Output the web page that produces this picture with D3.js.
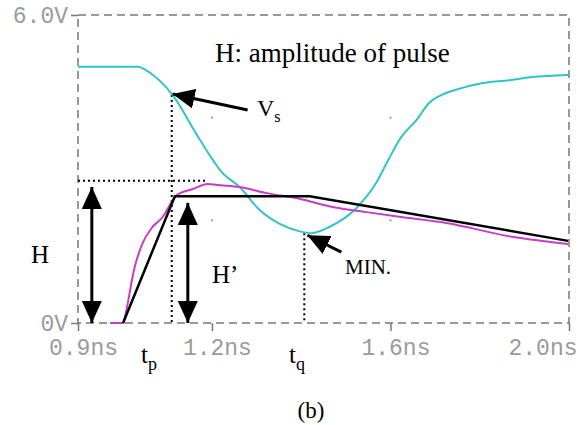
<!DOCTYPE html>
<html>
<head>
<meta charset="utf-8">
<script src="https://cdn.jsdelivr.net/npm/d3@7"></script>
<style>
  body { margin: 0; background: #fff; }
  svg { display: block; }
</style>
</head>
<body>
<script>
// tick labels
var xTicks = [0.9, 1.2, 1.6, 2.0];
var xTickLabels = ["0.9ns", "1.2ns", "1.6ns", "2.0ns"];
var yTicks = [0, 6];
var yTickLabels = ["0V", "6.0V"];
var gridT = [1.2, 1.6];
var gridV = [2, 4];

// Vs (cyan) curve, time in ns / volts
var cyanT = [0.900, 1.034, 1.065, 1.112, 1.173, 1.224, 1.262, 1.307, 1.352, 1.395, 1.423, 1.463, 1.524, 1.568, 1.593, 1.624, 1.658, 1.687, 1.725, 1.761, 1.799, 1.866, 1.917, 1.998];
var cyanV = [4.99, 4.99, 4.85, 4.44, 3.57, 2.92, 2.65, 2.20, 1.93, 1.79, 1.75, 1.87, 2.24, 2.73, 3.14, 3.62, 3.95, 4.29, 4.48, 4.58, 4.66, 4.73, 4.79, 4.83];

// pulse (magenta) curve
var magT = [0.972, 1.001, 1.005, 1.027, 1.045, 1.065, 1.090, 1.110, 1.121, 1.157, 1.191, 1.211, 1.262, 1.323, 1.396, 1.470, 1.546, 1.620, 1.725, 1.872, 1.998];
var magV = [0, 0, 0.12, 1.09, 1.56, 1.85, 2.07, 2.36, 2.49, 2.61, 2.71, 2.69, 2.65, 2.53, 2.42, 2.26, 2.16, 2.07, 1.95, 1.68, 1.54];

// piecewise linear approximation (black)
var blackT = [1.001, 1.117, 1.419, 1.998];
var blackV = [0, 2.47, 2.47, 1.60];

// tp, tq and H markers
var tp = 1.110, tq = 1.407;
var vsAtTp = 4.44, vMin = 1.75, hLevel = 2.77, hLineEnd = 1.186;

var w = 587, h = 425;
var margin = {top: 15, right: 18, bottom: 102, left: 78};

var xScale = d3.scaleLinear().domain([0.9, 2.0]).range([margin.left, w - margin.right]);
var yScale = d3.scaleLinear().domain([0, 6]).range([h - margin.bottom, margin.top]);

var svg = d3.select("body").append("svg")
    .attr("width", w)
    .attr("height", h);

svg.append("defs").append("marker")
    .attr("id", "head")
    .attr("viewBox", "0 0 22 20")
    .attr("refX", 22).attr("refY", 10)
    .attr("markerWidth", 22).attr("markerHeight", 20)
    .attr("markerUnits", "userSpaceOnUse")
    .attr("orient", "auto-start-reverse")
    .append("path")
    .attr("d", "M0,0L22,10L0,20Z")
    .attr("fill", "#000");

// dashed frame
var x0 = xScale(0.9), x1 = xScale(2.0), y0 = yScale(0), y1 = yScale(6);
svg.append("rect")
    .attr("x", x0).attr("y", y1)
    .attr("width", x1 - x0).attr("height", y0 - y1)
    .attr("fill", "none")
    .attr("stroke", "#777")
    .attr("stroke-width", 1.5)
    .attr("stroke-dasharray", "8,5");

// grid dots
gridT.forEach(function(t) {
    gridV.forEach(function(v) {
        svg.append("rect")
            .attr("x", xScale(t) - 1).attr("y", yScale(v) - 1)
            .attr("width", 2).attr("height", 2)
            .attr("fill", "#999");
    });
});

// axes
var xAxis = d3.axisBottom(xScale)
    .tickValues(xTicks)
    .tickSize(8)
    .tickPadding(8)
    .tickFormat(function(d, i) { return xTickLabels[i]; });

var gx = svg.append("g")
    .attr("transform", "translate(0," + y0 + ")")
    .call(xAxis);
gx.select(".domain").remove();
gx.selectAll(".tick line").attr("stroke", "#777").attr("stroke-width", 1.5);
gx.selectAll(".tick text")
    .attr("font-family", "Liberation Mono, monospace")
    .attr("font-size", "23px")
    .attr("fill", "#9a9a9a")
    .attr("dx", 5);
gx.selectAll(".tick text").filter(function(d) { return d === 2.0; })
    .attr("text-anchor", "end")
    .attr("dx", 8);

var yAxis = d3.axisLeft(yScale)
    .tickValues(yTicks)
    .tickSize(7)
    .tickPadding(3)
    .tickFormat(function(d, i) { return yTickLabels[i]; });

var gy = svg.append("g")
    .attr("transform", "translate(" + x0 + ",0)")
    .call(yAxis);
gy.select(".domain").remove();
gy.selectAll(".tick line").attr("stroke", "#777").attr("stroke-width", 1.5);
gy.selectAll(".tick text")
    .attr("font-family", "Liberation Mono, monospace")
    .attr("font-size", "23px")
    .attr("fill", "#9a9a9a");

// dotted guides
var dotted = [
    [[tp, vsAtTp], [tp, 0]],
    [[0.9, hLevel], [hLineEnd, hLevel]],
    [[tq, vMin], [tq, 0]]
];
var line = d3.line()
    .x(function(d) { return xScale(d[0]); })
    .y(function(d) { return yScale(d[1]); });
var smooth = d3.line()
    .x(function(d) { return xScale(d[0]); })
    .y(function(d) { return yScale(d[1]); })
    .curve(d3.curveMonotoneX);

svg.selectAll(".dot-guide")
    .data(dotted)
    .enter()
    .append("path")
    .attr("class", "dot-guide")
    .attr("d", line)
    .attr("fill", "none")
    .attr("stroke", "#000")
    .attr("stroke-width", 2)
    .attr("stroke-dasharray", "2,3");

// curves
var cyanData = cyanT.map(function(t, i) { return [t, cyanV[i]]; });
var magData = magT.map(function(t, i) { return [t, magV[i]]; });
var blackData = blackT.map(function(t, i) { return [t, blackV[i]]; });

svg.append("path")
    .attr("d", smooth(cyanData))
    .attr("fill", "none")
    .attr("stroke", "#2fc4c8")
    .attr("stroke-width", 2);

svg.append("path")
    .attr("d", smooth(magData))
    .attr("fill", "none")
    .attr("stroke", "#c83cc8")
    .attr("stroke-width", 2);

svg.append("path")
    .attr("d", line(blackData))
    .attr("fill", "none")
    .attr("stroke", "#000")
    .attr("stroke-width", 2.5);

// arrows
var arrows = [
    {from: [0.931, 0], to: [0.931, 2.65], both: true},
    {from: [1.146, 0], to: [1.146, 2.34], both: true},
    {from: [1.280, 4.15], to: [1.112, 4.46], both: false},
    {from: [1.490, 1.38], to: [1.414, 1.71], both: false}
];
arrows.forEach(function(a) {
    svg.append("line")
        .attr("x1", xScale(a.from[0])).attr("y1", yScale(a.from[1]))
        .attr("x2", xScale(a.to[0])).attr("y2", yScale(a.to[1]))
        .attr("stroke", "#000")
        .attr("stroke-width", 3)
        .attr("marker-end", "url(#head)")
        .attr("marker-start", a.both ? "url(#head)" : null);
});

// annotation text
var serif = "Liberation Serif, Times New Roman, serif";
function label(txt, sub, x, y, size, subSize) {
    var t = svg.append("text")
        .attr("x", x).attr("y", y)
        .attr("font-family", serif)
        .attr("font-size", size + "px")
        .attr("fill", "#000")
        .text(txt);
    if (sub) {
        t.append("tspan")
            .attr("font-size", subSize + "px")
            .attr("dy", size * 0.27)
            .text(sub);
    }
}
label("H: amplitude of pulse", null, 215, 62, 27);
label("V", "s", 257, 116, 24, 16);
label("H", null, 31, 263, 25);
label("H\u2019", null, 212, 283, 25);
label("MIN.", null, 345, 274, 21);
label("t", "p", 141, 363, 25, 18);
label("t", "q", 289, 363, 25, 18);

svg.append("text")
    .attr("x", 311).attr("y", 418)
    .attr("text-anchor", "middle")
    .attr("font-family", serif)
    .attr("font-size", "23px")
    .text("(b)");
</script>
</body>
</html>
